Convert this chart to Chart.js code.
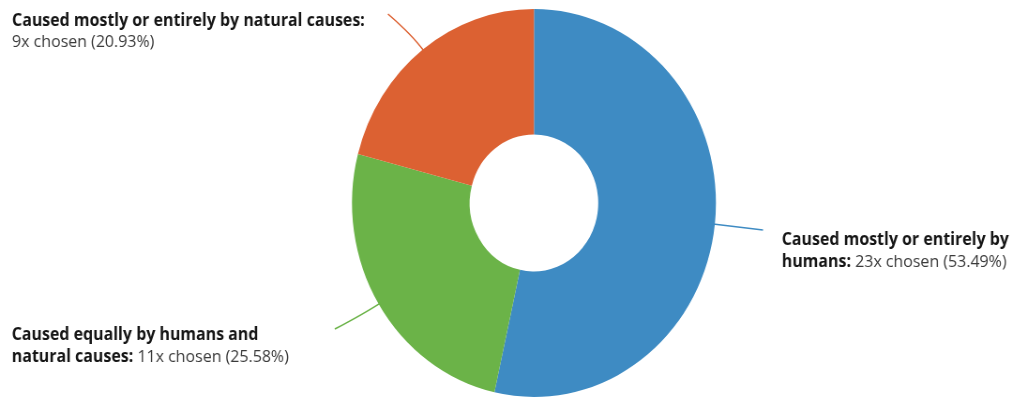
<!DOCTYPE html>
<html>
<head>
<meta charset="utf-8">
<script src="https://cdn.jsdelivr.net/npm/chart.js@4/dist/chart.umd.min.js"></script>
<style>
  html, body { margin: 0; padding: 0; background: #ffffff; overflow: hidden; }
  #wrap { position: absolute; left: 0; top: 0; width: 1079px; height: 398px;
          transform: scaleX(0.93791); transform-origin: 0 0; }
  #c { display: block; width: 1079px; height: 398px; }
</style>
</head>
<body>
<div id="wrap"><canvas id="c" width="1079" height="398"></canvas></div>
<script>
// ---- data ----
const categories = [
  "Caused mostly or entirely by humans",
  "Caused equally by humans and natural causes",
  "Caused mostly or entirely by natural causes"
];
const counts = [23, 11, 9];
const colors = ["#3e8bc3", "#6bb348", "#dc6132"];

const total = counts.reduce((a, b) => a + b, 0);

// ---- label / leader layout (style only) ----
const labelLayout = [
  { x: 833.5, y: 245, maxWidth: 250, end: [813.5, 230] },
  { x: 12.5,  y: 340, maxWidth: 300, end: [357.0, 329] },
  { x: 12.8,  y: 25.5, maxWidth: 390, end: [413.6, 14] }
];
const FONT_SIZE = 17;
const LINE_H = 21.5;
const FAMILY = '"Open Sans", "Noto Sans", sans-serif';

const labelPlugin = {
  id: 'leaderLabels',
  afterDatasetsDraw(chart) {
    const ctx = chart.ctx;
    const meta = chart.getDatasetMeta(0);
    meta.data.forEach((arc, i) => {
      const p = arc.getProps(['x', 'y', 'startAngle', 'endAngle', 'outerRadius'], true);
      const mid = (p.startAngle + p.endAngle) / 2;
      const dx = Math.cos(mid), dy = Math.sin(mid);
      const sx = p.x + dx * p.outerRadius, sy = p.y + dy * p.outerRadius;
      const cx = sx + dx * 18, cy = sy + dy * 18;
      const L = labelLayout[i];
      ctx.save();
      ctx.strokeStyle = colors[i];
      ctx.lineWidth = 1.5;
      ctx.beginPath();
      ctx.moveTo(sx - dx * 2, sy - dy * 2);
      ctx.quadraticCurveTo(cx, cy, L.end[0], L.end[1]);
      ctx.stroke();

      // build tokens
      const pct = (counts[i] / total * 100).toFixed(2);
      const tokens = [];
      (categories[i] + ':').split(' ').forEach(w => tokens.push({ t: w, b: true }));
      (counts[i] + 'x chosen (' + pct + '%)').split(' ').forEach(w => tokens.push({ t: w, b: false }));
      const fontB = 'bold ' + FONT_SIZE + 'px ' + FAMILY;
      const fontR = FONT_SIZE + 'px ' + FAMILY;
      const widthOf = (tok) => { ctx.font = tok.b ? fontB : fontR; return ctx.measureText(tok.t).width; };
      const spaceW = (b) => { ctx.font = b ? fontB : fontR; return ctx.measureText(' ').width; };
      const lines = [[]];
      let cur = 0;
      tokens.forEach(tok => {
        const w = widthOf(tok);
        const line = lines[lines.length - 1];
        const add = line.length ? spaceW(tok.b) + w : w;
        if (line.length && cur + add > L.maxWidth) {
          lines.push([tok]); cur = w;
        } else { line.push(tok); cur += add; }
      });
      ctx.textBaseline = 'alphabetic';
      ctx.textAlign = 'left';
      lines.forEach((line, li) => {
        let x = L.x;
        const y = L.y + li * LINE_H;
        line.forEach((tok, ti) => {
          if (ti > 0) x += spaceW(tok.b);
          ctx.font = tok.b ? fontB : fontR;
          ctx.fillStyle = tok.b ? '#151515' : '#3a3a3a';
          ctx.fillText(tok.t, x, y);
          x += ctx.measureText(tok.t).width;
        });
      });
      ctx.restore();
    });
  }
};

new Chart(document.getElementById('c'), {
  type: 'doughnut',
  data: {
    labels: categories,
    datasets: [{
      data: counts,
      backgroundColor: colors,
      borderWidth: 0,
      hoverOffset: 0
    }]
  },
  options: {
    responsive: false,
    animation: false,
    cutout: '35.3%',
    layout: { padding: { left: 375.3, right: 315.7, top: 9, bottom: 1 } },
    plugins: { legend: { display: false }, tooltip: { enabled: false } }
  },
  plugins: [labelPlugin]
});
</script>
</body>
</html>
